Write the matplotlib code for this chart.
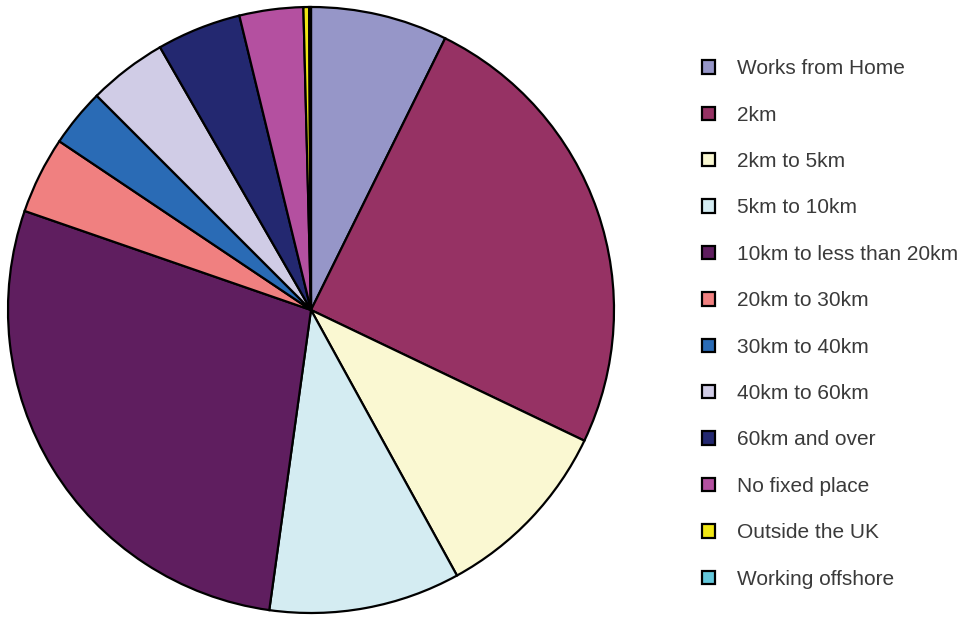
import matplotlib.pyplot as plt
from matplotlib.patches import Patch

labels = ["Works from Home", "2km", "2km to 5km", "5km to 10km",
          "10km to less than 20km", "20km to 30km", "30km to 40km",
          "40km to 60km", "60km and over", "No fixed place",
          "Outside the UK", "Working offshore"]
shares = [7.3, 24.8, 9.9, 10.2, 28.1, 4.1, 3.1, 4.2, 4.5, 3.4, 0.3, 0.1]
colors = ["#9696C8", "#963264", "#FAF8D2", "#D4ECF2", "#5F1E5F", "#F08080",
          "#2A6BB5", "#D0CCE6", "#232870", "#B450A0", "#F0E614", "#64C8DC"]


def main():
    fig = plt.figure(figsize=(9.6, 6.18), dpi=100)
    ax = fig.add_axes([8 / 960, 5 / 618, 606 / 960, 606 / 618])

    wedges, _ = ax.pie(shares, colors=colors, startangle=90, counterclock=False,
                       wedgeprops=dict(edgecolor="black", linewidth=1.6))
    for w in wedges:
        w.set_clip_on(False)
    ax.set_xlim(-1, 1)
    ax.set_ylim(-1, 1)
    ax.set_aspect("equal")

    handles = [Patch(facecolor=c, edgecolor="black", linewidth=1.6) for c in colors]
    fig.legend(handles, labels, loc="upper left", bbox_to_anchor=(683 / 960, 1 - 40.5 / 618),
               frameon=False, handlelength=0.62, handleheight=0.62,
               handletextpad=1.05, labelspacing=1.315, labelcolor="#3a3a3a",
               prop={"family": "Liberation Sans", "size": 15})

    plt.savefig("out.png", dpi=100)


if __name__ == '__main__':
    main()
